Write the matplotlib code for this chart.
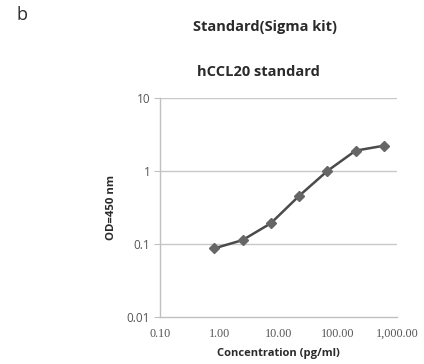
import matplotlib
matplotlib.use("Agg")
import matplotlib.pyplot as plt
from matplotlib.ticker import FixedLocator, FixedFormatter, NullLocator

conc = [0.82, 2.47, 7.41, 22.2, 66.7, 200.0, 600.0]
od = [0.087, 0.113, 0.192, 0.455, 1.0, 1.90, 2.22]
x_ticks = [0.1, 1, 10, 100, 1000]
x_labels = ["0.10", "1.00", "10.00", "100.00", "1,000.00"]
y_ticks = [0.01, 0.1, 1, 10]
y_labels = ["0.01", "0.1", "1", "10"]

fig = plt.figure(figsize=(4.24, 3.64), dpi=100)
ax = fig.add_axes([160/424, 1-317/364, (397-160)/424, (317-98)/364])
ax.set_xscale("log")
ax.set_yscale("log")
ax.set_xlim(0.1, 1000)
ax.set_ylim(0.01, 10)

ax.plot(conc, od, color="#4a4a4a", lw=1.8, marker="D", ms=5.5,
        markerfacecolor="#666666", markeredgecolor="#666666", zorder=3)

ax.yaxis.set_major_locator(FixedLocator(y_ticks))
ax.yaxis.set_major_formatter(FixedFormatter(y_labels))
ax.yaxis.set_minor_locator(NullLocator())
ax.xaxis.set_major_locator(FixedLocator(x_ticks))
ax.xaxis.set_major_formatter(FixedFormatter(x_labels))
ax.xaxis.set_minor_locator(NullLocator())

for v in y_ticks[1:]:
    ax.axhline(v, color="#c8c8c8", lw=1.0, zorder=1)

for s in ["top", "right"]:
    ax.spines[s].set_visible(False)
ax.spines["left"].set_color("#c0c0c0")
ax.spines["bottom"].set_color("#c0c0c0")
ax.spines["left"].set_linewidth(1.0)
ax.spines["bottom"].set_linewidth(1.0)

ax.tick_params(axis="y", length=4, color="#c0c0c0", labelsize=8.5, labelcolor="#555555", pad=3)
ax.tick_params(axis="x", length=0, labelsize=8.7, labelcolor="#555555", pad=8)
for lab in ax.get_yticklabels():
    lab.set_fontfamily("Open Sans")
for lab in ax.get_xticklabels():
    lab.set_fontfamily("Liberation Serif")

ax.set_xlabel("Concentration (pg/ml)", fontsize=8, fontweight="bold", family="Open Sans", color="#2a2a2a", labelpad=6)
ax.set_ylabel("OD=450 nm", fontsize=8.2, fontweight="bold", family="Open Sans", color="#2a2a2a", labelpad=7)

fig.text(22/424, 1-15/364, "b", fontsize=13, family="Open Sans", color="#2a2a2a", ha="center", va="center")
fig.text(265/424, 1-27/364, "Standard(Sigma kit)", fontsize=10.5, fontweight="bold", family="Open Sans", color="#2a2a2a", ha="center", va="center")
fig.text(258/424, 1-72/364, "hCCL20 standard", fontsize=10.5, fontweight="bold", family="Open Sans", color="#2a2a2a", ha="center", va="center")

fig.savefig("out.png", dpi=100, facecolor="white")
